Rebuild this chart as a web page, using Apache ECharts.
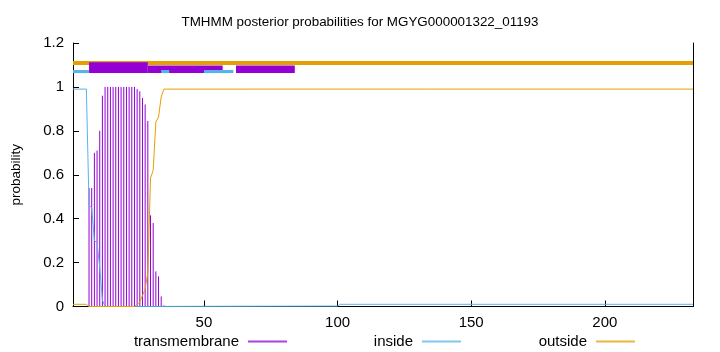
<!DOCTYPE html>
<html>
<head>
<meta charset="utf-8">
<script src="https://cdn.jsdelivr.net/npm/echarts@6/dist/echarts.min.js"></script>
<style>html,body{margin:0;padding:0;background:#fff}#c{width:720px;height:352px}</style>
</head>
<body>
<div id="c"></div>
<script>
// ---- data ----
var titleText = 'TMHMM posterior probabilities for MGYG000001322_01193';
var seqStart = 1;
var seqEnd = 233;
var xTickValues = [50, 100, 150, 200];

// transmembrane posterior (impulses), residues 7..35
var tmResidues = [7,8,9,10,11,12,13,14,15,16,17,18,19,20,21,22,23,24,25,26,27,28,29,30,31,32,33,34,35];
var tmProb = [0.54,0.54,0.70,0.71,0.80,0.96,1,1,1,1,1,1,1,1,1,1,1,1,0.99,0.98,0.95,0.92,0.845,0.415,0.38,0.16,0.137,0.046,0.005];

// inside posterior (line), breakpoints
var insideResidues = [1,6,7,8,9,10,11,12,13,100,101,233];
var insideProb = [0.99,0.99,0.46,0.45,0.30,0.29,0.18,0.03,0.0,0.002,0.01,0.01];

// outside posterior (line), breakpoints
var outsideResidues = [1,6,7,24,25,26,27,28,29,30,31,32,33,34,35,36,233];
var outsideProb = [0.01,0.01,0.0,0.0,0.01,0.02,0.05,0.08,0.155,0.585,0.62,0.84,0.863,0.954,0.99,0.99,0.99];

// predicted topology bars at the top: [from, to]
var outsideSegs = [[1,233]];
var insideSegs = [[1,7],[34,37],[50,61]];
var tmSegs = [[7,29],[29,57],[62,84]];
var tmSegTop = [1.112, 1.098, 1.098];

var cTM = '#9400D3', cIn = '#56B4E9', cOut = '#E69F00';

function segSeries(name, segs, y0, y1s, color, z) {
  var data = segs.map(function (s, i) {
    return [s[0], s[1], y0, Array.isArray(y1s) ? y1s[i] : y1s];
  });
  return {
    type: 'custom', name: name, z: z, silent: true,
    renderItem: function (params, api) {
      var p0 = api.coord([api.value(0), api.value(3)]);
      var p1 = api.coord([api.value(1), api.value(2)]);
      return { type: 'rect', shape: { x: p0[0], y: p0[1], width: p1[0] - p0[0], height: p1[1] - p0[1] },
               style: { fill: color } };
    },
    encode: { x: [0, 1], y: [2, 3] },
    data: data
  };
}

var chart = echarts.init(document.getElementById('c'), null, { renderer: 'canvas' });
var font = 'Liberation Sans';
var legendText = { fontSize: 15, color: '#000', padding: [0, 4, 0, 0], fontFamily: font };
function legendFor(name, right, color) {
  return { data: [{ name: name, itemStyle: { color: color, opacity: 0.75 } }], right: right, top: 334, padding: 0,
           align: 'right', icon: 'rect', itemWidth: 39, itemHeight: 2, textStyle: legendText };
}
var option = {
  animation: false,
  textStyle: { fontFamily: font },
  title: { text: titleText, left: 'center', top: 11,
           textStyle: { fontFamily: font, fontSize: 13.4, fontWeight: 'normal', color: '#000' } },
  grid: { left: 73, right: 27, top: 43, bottom: 45.5, containLabel: false },
  legend: [
    legendFor('transmembrane', 433, cTM),
    legendFor('inside', 259, cIn),
    legendFor('outside', 85, cOut)
  ],
  xAxis: {
    type: 'value', min: seqStart, max: seqEnd,
    axisLine: { show: true, lineStyle: { color: '#000', width: 1 } },
    axisTick: { show: true, inside: true, length: 6, customValues: xTickValues, lineStyle: { color: '#000' } },
    axisLabel: { customValues: xTickValues, color: '#000', fontSize: 15, margin: 9 },
    splitLine: { show: false }
  },
  yAxis: [{
    type: 'value', min: 0, max: 1.2, interval: 0.2,
    name: 'probability', nameLocation: 'middle', nameGap: 50, nameRotate: 90,
    nameTextStyle: { color: '#000', fontSize: 13.5, fontFamily: font },
    axisLine: { show: true, lineStyle: { color: '#000', width: 1 } },
    axisTick: { show: true, inside: true, length: 6, lineStyle: { color: '#000' } },
    axisLabel: { color: '#000', fontSize: 15, margin: 9 },
    splitLine: { show: false }
  }, {
    type: 'value', min: 0, max: 1.2, interval: 0.2, position: 'right',
    axisLine: { show: true, lineStyle: { color: '#000', width: 1 } },
    axisTick: { show: false }, axisLabel: { show: false }, splitLine: { show: false }
  }],
  series: [
    {
      type: 'custom', name: 'transmembrane', z: 3,
      itemStyle: { color: cTM },
      renderItem: function (params, api) {
        var p0 = api.coord([api.value(0), 0]);
        var p1 = api.coord([api.value(0), api.value(1)]);
        return { type: 'line', shape: { x1: p0[0], y1: p0[1], x2: p1[0], y2: p1[1] },
                 style: { stroke: cTM, lineWidth: 1 } };
      },
      encode: { x: 0, y: 1 },
      data: tmResidues.map(function (r, i) { return [r, tmProb[i]]; })
    },
    {
      type: 'line', name: 'inside', z: 4, symbol: 'none', color: cIn,
      lineStyle: { color: cIn, width: 1 },
      data: insideResidues.map(function (r, i) { return [r, insideProb[i]]; })
    },
    {
      type: 'line', name: 'outside', z: 4, symbol: 'none', color: cOut,
      lineStyle: { color: cOut, width: 1 },
      data: outsideResidues.map(function (r, i) { return [r, outsideProb[i]]; })
    },
    segSeries('outsideTop', outsideSegs, 1.0995, 1.118, cOut, 5),
    segSeries('tmTop', tmSegs, 1.063, tmSegTop, cTM, 6),
    segSeries('insideTop', insideSegs, 1.063, 1.077, cIn, 7)
  ]
};
chart.setOption(option);
</script>
</body>
</html>
